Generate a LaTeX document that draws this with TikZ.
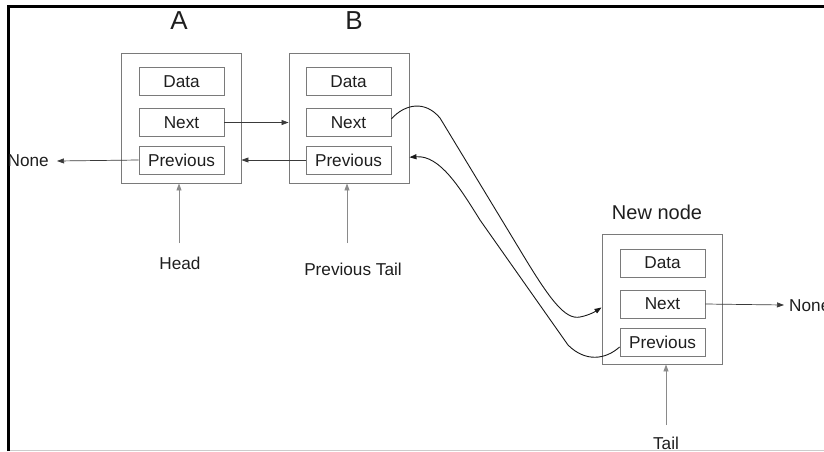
\documentclass[tikz,border=0pt]{standalone}
\usepackage{fontspec}
\setmainfont{Liberation Sans}
\usetikzlibrary{arrows.meta}
\definecolor{boxgray}{HTML}{7A7A7A}
\definecolor{linegray}{HTML}{3A3A3A}
\definecolor{vgray}{HTML}{8A8A8A}
\definecolor{txt}{HTML}{1E1E1E}
\begin{document}
\begin{tikzpicture}[x=1pt,y=-1pt,
  outerbox/.style={draw=boxgray, line width=0.9pt, minimum width=120pt, minimum height=130pt, inner sep=0pt},
  field/.style={draw=boxgray, line width=0.9pt, minimum width=85pt, minimum height=28pt, inner sep=0pt, font=\fontsize{17.2}{19}\selectfont, text=txt},
  lbl/.style={font=\fontsize{17.2}{19}\selectfont, text=txt, inner sep=0pt},
  tip/.style={-{Triangle[length=7pt,width=5pt]}},
  harrow/.style={tip, draw=linegray, line width=0.7pt},
  varrow/.style={tip, draw=vgray, line width=0.9pt},
  curvearrow/.style={tip, draw=black!90, line width=0.9pt}]
\useasboundingbox (0,0) rectangle (824,451);
% frame
\draw[line width=3pt, black] (8.5,451) -- (8.5,6.5) -- (824,6.5);
\draw[line width=0.8pt, black!20] (10,450) -- (824,450);

% titles
\node[font=\fontsize{26}{28}\selectfont, text=txt, anchor=base, inner sep=0pt] (tA) at (179,29) {A};
\node[font=\fontsize{26}{28}\selectfont, text=txt, anchor=base, inner sep=0pt] (tB) at (354,29) {B};
\node[font=\fontsize{20}{22}\selectfont, text=txt, anchor=base, inner sep=0pt] (tN) at (657,219) {New node};

% node A
\node[outerbox] (A) at (181,118) {};
\node[field] (Ad) at (181.5,81.5) {Data};
\node[field] (An) at (181.5,122.5) {Next};
\node[field] (Ap) at (181.5,160) {Previous};
% node B
\node[outerbox] (B) at (349,118) {};
\node[field] (Bd) at (348.5,81.5) {Data};
\node[field] (Bn) at (348.5,122.5) {Next};
\node[field] (Bp) at (348.5,160) {Previous};
% new node
\node[outerbox] (N) at (662,299) {};
\node[field] (Nd) at (662.5,263) {Data};
\node[field] (Nn) at (662.5,304) {Next};
\node[field] (Np) at (662.5,342) {Previous};

% labels
\node[lbl, anchor=east] (noneL) at (49,161) {None};
\node[lbl, anchor=west] (noneR) at (789,306) {None};
\node[lbl, anchor=base] (head) at (180,269) {Head};
\node[lbl, anchor=base] (ptail) at (353,275) {Previous Tail};
\node[lbl, anchor=base] (tail) at (666,449) {Tail};

\coordinate (hA) at (179,243);
\coordinate (hB) at (347,243);
\coordinate (hN) at (666,425);
\coordinate (nL) at (57,161);
\coordinate (nR) at (784,305);

% straight arrows
\draw[harrow] (An.east) -- (An.east -| B.west);
\draw[harrow] (Bp.west) -- (Bp.west -| A.east);
\draw[harrow] (Ap.west) -- (nL);
\draw[harrow] (Nn.east) -- (nR);
\draw[varrow] (hA) -- (hA |- A.south);
\draw[varrow] (hB) -- (hB |- B.south);
\draw[varrow] (hN) -- (hN |- N.south);

% curved arrows
\draw[curvearrow] (Bn.5) .. controls (405,104) and (425,100) .. (440,118)
  -- (520,250) .. controls (550,300) and (565,320) .. (580,317)
  .. controls (590,315) and (596,311) .. (N.188.5);
\draw[curvearrow] ([yshift=-5pt]Np.west) .. controls (605,360) and (585,362) .. (568,345)
  -- (480,220) .. controls (460,188) and (440,155) .. (B.-33.7);
\end{tikzpicture}
\end{document}
